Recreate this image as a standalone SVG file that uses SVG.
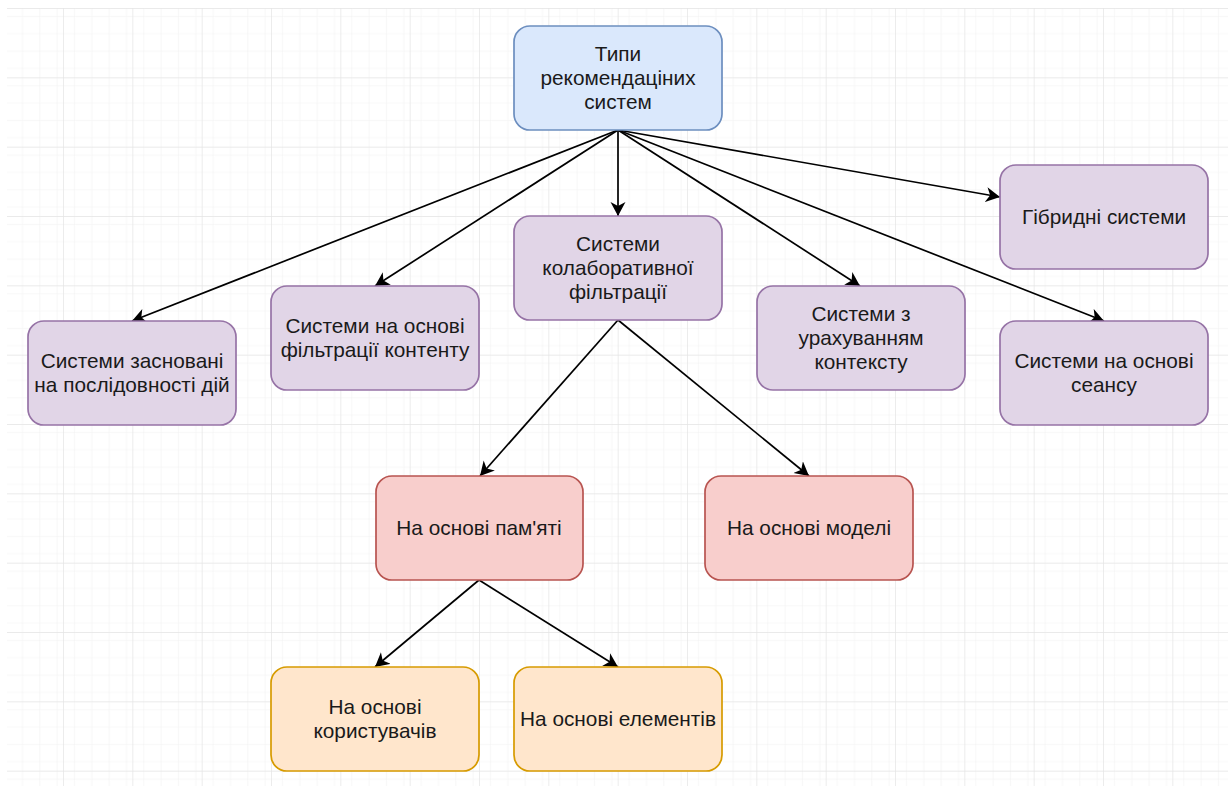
<svg xmlns="http://www.w3.org/2000/svg" width="1228" height="786" viewBox="0 0 1228 786">
  <defs>
    <!-- drawing-paper grid: minor every 17.33px, major every 69.33px -->
    <pattern id="minorGrid" width="17.333" height="17.333" patternUnits="userSpaceOnUse" x="-6.33" y="8">
      <path d="M0,0 H17.333 M0,0 V17.333" fill="none" stroke="#f2f2f2" stroke-width="1.2"/>
    </pattern>
    <pattern id="majorGrid" width="69.333" height="69.333" patternUnits="userSpaceOnUse" x="-6.33" y="8">
      <rect width="69.333" height="69.333" fill="url(#minorGrid)"/>
      <path d="M0,0 H69.333 M0,0 V69.333" fill="none" stroke="#e4e4e4" stroke-width="1.4"/>
    </pattern>
    <marker id="arrow" markerUnits="userSpaceOnUse" markerWidth="16" markerHeight="16" refX="14" refY="7.5" orient="auto">
      <path d="M0,0 L14,7.5 L0,15 L4,7.5 Z" fill="#000"/>
    </marker>
    <style>
      .node rect { stroke-width: 1.7; }
      .blue rect { fill: #dae8fc; stroke: #6c8ebf; }
      .purple rect { fill: #e1d5e7; stroke: #9673a6; }
      .red rect { fill: #f8cecc; stroke: #b85450; }
      .orange rect { fill: #ffe6cc; stroke: #d79b00; }
      .node text { font-family: "Liberation Sans", Arial, sans-serif; font-size: 20.8px; fill: #1a1a1a; text-anchor: middle; }
      .edges path { fill: none; stroke: #000; stroke-width: 1.7; marker-end: url(#arrow); }
    </style>
  </defs>

  <rect width="1228" height="786" fill="#fff"/>
  <rect x="7" y="8" width="1221" height="778" fill="url(#majorGrid)"/>

  <g class="edges" id="connectors">
    <path d="M618,130 L132,321"/>
    <path d="M618,130 L375,286"/>
    <path d="M618,130 L618,216"/>
    <path d="M618,130 L860,286"/>
    <path d="M618,130 L1000,197"/>
    <path d="M618,130 L1104,321"/>
    <path d="M618,320 L480,476"/>
    <path d="M618,320 L809,476"/>
    <path d="M479,580 L375,667"/>
    <path d="M479,580 L618,667"/>
  </g>

  <g id="root" class="node blue">
    <rect x="514" y="26" width="208" height="104" rx="16"/>
    <text x="618" y="61">Типи</text>
    <text x="618" y="85">рекомендаціних</text>
    <text x="618" y="109">систем</text>
  </g>

  <g id="collaborative" class="node purple">
    <rect x="514" y="216" width="208" height="104" rx="16"/>
    <text x="618" y="251">Системи</text>
    <text x="618" y="275">колаборативної</text>
    <text x="618" y="299">фільтрації</text>
  </g>

  <g id="hybrid" class="node purple">
    <rect x="1000" y="165" width="208" height="104" rx="16"/>
    <text x="1104" y="224">Гібридні системи</text>
  </g>

  <g id="sequence" class="node purple">
    <rect x="28" y="321" width="208" height="104" rx="16"/>
    <text x="132" y="368">Системи засновані</text>
    <text x="132" y="392">на послідовності дій</text>
  </g>

  <g id="content" class="node purple">
    <rect x="271" y="286" width="208" height="104" rx="16"/>
    <text x="375" y="333">Системи на основі</text>
    <text x="375" y="357">фільтрації контенту</text>
  </g>

  <g id="context" class="node purple">
    <rect x="757" y="286" width="208" height="104" rx="16"/>
    <text x="861" y="321">Системи з</text>
    <text x="861" y="345">урахуванням</text>
    <text x="861" y="369">контексту</text>
  </g>

  <g id="session" class="node purple">
    <rect x="1000" y="321" width="208" height="104" rx="16"/>
    <text x="1104" y="368">Системи на основі</text>
    <text x="1104" y="392">сеансу</text>
  </g>

  <g id="memory" class="node red">
    <rect x="376" y="476" width="207" height="104" rx="16"/>
    <text x="479" y="535">На основі пам'яті</text>
  </g>

  <g id="model" class="node red">
    <rect x="705" y="476" width="208" height="104" rx="16"/>
    <text x="809" y="535">На основі моделі</text>
  </g>

  <g id="users" class="node orange">
    <rect x="271" y="667" width="208" height="104" rx="16"/>
    <text x="375" y="714">На основі</text>
    <text x="375" y="738">користувачів</text>
  </g>

  <g id="items" class="node orange">
    <rect x="514" y="667" width="208" height="104" rx="16"/>
    <text x="618" y="726">На основі елементів</text>
  </g>
</svg>
